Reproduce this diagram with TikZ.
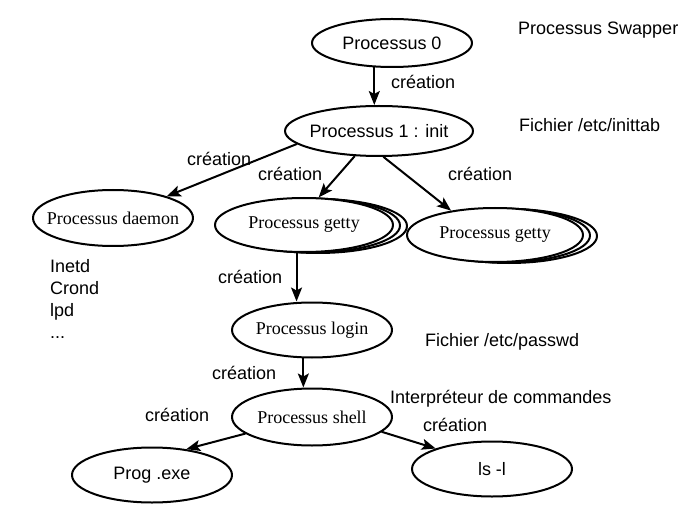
\documentclass[tikz,border=0pt]{standalone}
\usepackage{fontspec}
\setmainfont{Liberation Sans}
\newfontfamily\timesfont{Liberation Serif}
\usetikzlibrary{arrows.meta}
\usetikzlibrary{shapes.geometric}
\usetikzlibrary{shadows}

\begin{document}
\begin{tikzpicture}[line cap=round,line join=round,x=1pt,y=-1pt,
  font=\fontsize{18}{22}\selectfont,
  proc/.style={ellipse,draw=black,line width=2pt,fill=white,inner ysep=0pt,inner xsep=-20pt,
    minimum width=160pt,minimum height=55pt},
  procrm/.style={proc,font=\timesfont\fontsize{18}{22}\selectfont},
  getty/.style={procrm,minimum width=178pt,minimum height=54pt,
    copy shadow={shadow xshift=14pt,shadow yshift=-1pt,draw=black,fill=white,line width=2pt},
    copy shadow={shadow xshift=7pt,shadow yshift=-0.5pt,draw=black,fill=white,line width=2pt}},
  fleche/.style={-{Stealth[length=14pt,width=11pt,inset=3pt]},line width=2pt},
  lbl/.style={inner sep=0pt,anchor=base west}]
\useasboundingbox (0,0) rectangle (692,510);
\node[proc,minimum height=48pt] (p0) at (392,43) {Processus 0};
\node[proc,minimum width=188pt,minimum height=50pt] (init) at (379,131) {Processus 1 : init};
\node[procrm,minimum height=56pt] (daemon) at (113,218) {Processus daemon};
\node[getty] (gettyA) at (304,225) {Processus getty};
\node[getty,minimum width=176pt] (gettyB) at (495,235) {Processus getty};
\node[procrm] (login) at (312,330) {Processus login};
\node[procrm,minimum height=57pt] (shell) at (312,417) {Processus shell};
\node[proc] (prog) at (152,475) {Prog .exe};
\node[proc] (ls) at (492,469) {ls -l};
\node[lbl] (swapper) at (518,35) {Processus Swapper};
\node[lbl] (inittab) at (519,132) {Fichier /etc/inittab};
\node[lbl] (passwd) at (425,346) {Fichier /etc/passwd};
\node[lbl] (interp) at (390,403) {Interpréteur de commandes};
\node[lbl] (c0) at (391,89) {création};
\node[lbl] (c1) at (187,166) {création};
\node[lbl] (c2) at (258,181) {création};
\node[lbl] (c3) at (448,181) {création};
\node[lbl] (c4) at (218,283) {création};
\node[lbl] (c5) at (212,379) {création};
\node[lbl] (c6) at (145,421) {création};
\node[lbl] (c7) at (423,431) {création};
\foreach \t [count=\i] in {Inetd,Crond,lpd}
\node[lbl] (d\i) at (50,250+22*\i) {\t};
\node[lbl] (d4) at (50,338) {...};
\draw[fleche] (p0.234) -- (p0.234 |- init.north);
\draw[fleche] (init.189) -- (daemon.22);
\draw[fleche] (init.226) -- (gettyA.62);
\draw[fleche] (init.280) -- (gettyB.151);
\draw[fleche] (gettyA.255) -- (gettyA.255 |- login.north);
\draw[fleche] (login.253) -- (login.253 |- shell.north);
\draw[fleche] (shell.194) -- (prog.37);
\draw[fleche] (shell.348) -- (ls.160);
\end{tikzpicture}
\end{document}
